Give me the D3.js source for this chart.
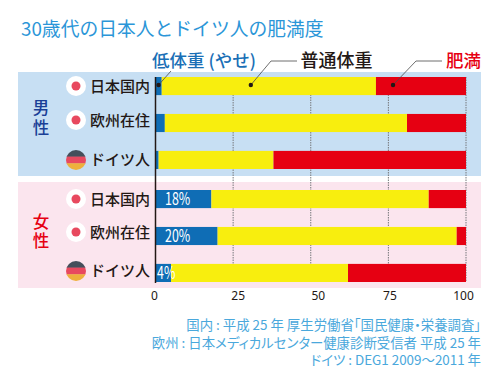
<!doctype html>
<html lang="ja">
<head>
<meta charset="UTF-8">
<title>30歳代の日本人とドイツ人の肥満度</title>
<script src="https://cdn.jsdelivr.net/npm/d3@7"></script>
<style>
  html, body { margin: 0; padding: 0; background: #fff; }
  svg { display: block; }
  text { font-family: "Noto Sans CJK JP", "Noto Sans", sans-serif; }
</style>
</head>
<body>
<div class="canvas"></div>
<script>
  const places = ['日本国内', '欧州在住', 'ドイツ人'];
  const seriesKeys = ['低体重 (やせ)', '普通体重', '肥満'];
  const seriesColors = ['#0f6db5', '#f8ee0e', '#e60012'];

  // 低体重, 普通体重, 肥満 (%)
  const maleLow = [2, 3, 1];
  const maleNormal = [69, 78, 37];
  const maleObese = [29, 19, 62];
  const femaleLow = [18, 20, 5];
  const femaleNormal = [70, 77, 57];
  const femaleObese = [12, 3, 38];
  const femaleLabels = ['18%', '20%', '4%'];
  const ticks = [0, 25, 50, 75, 100];
  const notes = [
    '国内 : 平成 25 年 厚生労働省「国民健康・栄養調査」',
    '欧州 : 日本メディカルセンター健康診断受信者 平成 25 年',
    'ドイツ : DEG1 2009〜2011 年'
  ];

  const svg = d3.select('.canvas').append('svg')
    .attr('width', 500)
    .attr('height', 390);

  const x = d3.scaleLinear().domain([0, 100]).range([155.5, 466]);

  const groups = [
    { name: '男', low: maleLow, normal: maleNormal, obese: maleObese, labels: [],
      bg: '#c7dff3', color: '#1a3f96', top: 72, bottom: 176, range: [77, 169], ty: [108, 128], rowShift: [0, -3, 0] },
    { name: '女', low: femaleLow, normal: femaleNormal, obese: femaleObese, labels: femaleLabels,
      bg: '#fbe5ee', color: '#e60012', top: 182, bottom: 288, range: [190, 282], ty: [222, 241], rowShift: [0, -4, -2] }
  ];

  svg.append('text')
    .attr('x', 21).attr('y', 36)
    .attr('fill', '#2b96d8')
    .style('font-size', '18.8px')
    .text('30歳代の日本人とドイツ人の肥満度');

  // 背景
  groups.forEach(g => {
    svg.append('rect')
      .attr('x', 18).attr('y', g.top)
      .attr('width', 463).attr('height', g.bottom - g.top)
      .attr('fill', g.bg);
  });

  // grid
  svg.append('g').selectAll('line')
    .data(ticks.slice(1))
    .enter().append('line')
    .attr('x1', d => x(d)).attr('x2', d => x(d))
    .attr('y1', 77).attr('y2', 282)
    .attr('stroke', '#77787c')
    .attr('stroke-width', 1)
    .attr('stroke-dasharray', '1.5 1');

  const stack = d3.stack().keys([0, 1, 2]);
  const defs = svg.append('defs');

  groups.forEach((g, gi) => {
    const y = d3.scaleBand().domain(places).range(g.range).paddingInner(0.51);
    const rows = places.map((p, i) => ({ place: p, 0: g.low[i], 1: g.normal[i], 2: g.obese[i] }));

    stack(rows).forEach((layer, li) => {
      svg.append('g').selectAll('rect')
        .data(layer)
        .enter().append('rect')
        .attr('x', d => x(d[0]))
        .attr('y', d => y(d.data.place))
        .attr('width', d => x(d[1]) - x(d[0]))
        .attr('height', y.bandwidth())
        .attr('fill', seriesColors[li]);
    });

    // 値ラベル (細い文字)
    svg.append('g').selectAll('text')
      .data(g.labels)
      .enter().append('text')
      .attr('transform', (d, i) => {
        const tx = i === 2 ? x(0) + 1.5 : x(0) + 9.5;
        const ty = y(places[i]) + y.bandwidth() / 2 + 6;
        return `translate(${tx}, ${ty}) scale(0.73, 1)`;
      })
      .attr('fill', '#fff')
      .style('font-size', '17px')
      .text(d => d);

    // 行ラベル
    svg.append('g').selectAll('text')
      .data(places)
      .enter().append('text')
      .attr('x', 150)
      .attr('y', (d, i) => y(d) + y.bandwidth() / 2 + 5.5 + g.rowShift[i])
      .attr('text-anchor', 'end')
      .attr('fill', '#231815')
      .style('font-size', '15px')
      .style('font-weight', 500)
      .text(d => d);

    // 国旗
    places.forEach((p, i) => {
      const cy = y(p) + y.bandwidth() / 2 + g.rowShift[i];
      if (i < 2) {
        svg.append('circle').attr('cx', 76).attr('cy', cy).attr('r', 10).attr('fill', '#fff');
        svg.append('circle').attr('cx', 76).attr('cy', cy).attr('r', 4.5).attr('fill', '#e8495f');
      } else {
        const id = 'flag' + gi;
        defs.append('clipPath').attr('id', id)
          .append('circle').attr('cx', 76).attr('cy', cy).attr('r', 10);
        ['#454f5b', '#e8495f', '#eeb03c'].forEach((c, k) => {
          svg.append('rect')
            .attr('x', 66).attr('y', cy - 10 + k * 20 / 3)
            .attr('width', 20).attr('height', 20 / 3 + 0.3)
            .attr('fill', c)
            .attr('clip-path', `url(#${id})`);
        });
      }
    });

    // 男性 / 女性
    [g.name, '性'].forEach((t, i) => {
      svg.append('text')
        .attr('x', 41).attr('y', g.ty[i] + 6)
        .attr('text-anchor', 'middle')
        .attr('fill', g.color)
        .style('font-size', '16.5px')
        .style('font-weight', 500)
        .text(t);
    });
  });

  // 0 の軸線
  svg.append('line')
    .attr('x1', x(0)).attr('x2', x(0))
    .attr('y1', 77).attr('y2', 283)
    .attr('stroke', '#231815')
    .attr('stroke-width', 1.5);

  // x axis
  const tickShift = [-1.5, 4.5, 7, 1, -3];
  const xAxisG = svg.append('g')
    .attr('transform', 'translate(0, 288)')
    .call(d3.axisBottom(x).tickValues(ticks).tickSize(0).tickPadding(3));
  xAxisG.select('.domain').remove();
  xAxisG.selectAll('text')
    .attr('dx', (d, i) => tickShift[i])
    .attr('fill', '#231815')
    .style('font-family', '"Noto Sans", sans-serif')
    .style('font-size', '12px');

  // 凡例
  const legendColors = ['#1a6fb6', '#231815', '#e60012'];
  const legendX = [152, 300.5, 446];
  const legendSize = [17.5, 18, 17.5];
  svg.selectAll('.legend')
    .data(seriesKeys)
    .enter().append('text')
    .attr('class', 'legend')
    .attr('x', (d, i) => legendX[i]).attr('y', 67)
    .attr('fill', (d, i) => legendColors[i])
    .style('font-size', (d, i) => legendSize[i] + 'px')
    .style('font-weight', 500)
    .text(d => d);

  // 引き出し線
  const leaders = [
    { dot: [x(1), 85], path: [[x(1), 85], [171, 71]] },
    { dot: [x(30.7), 85], path: [[x(30.7), 85], [271, 61], [297, 61]] },
    { dot: [x(76.5), 85], path: [[x(76.5), 85], [416, 61], [442, 61]] }
  ];
  const lineGen = d3.line();
  leaders.forEach(l => {
    svg.append('path')
      .attr('d', lineGen(l.path))
      .attr('fill', 'none')
      .attr('stroke', '#4a4a4a')
      .attr('stroke-width', 0.8);
    svg.append('circle')
      .attr('cx', l.dot[0]).attr('cy', l.dot[1]).attr('r', 2.2)
      .attr('fill', '#231815');
  });

  // 出典
  svg.selectAll('.note')
    .data(notes)
    .enter().append('text')
    .attr('class', 'note')
    .attr('x', 481)
    .attr('y', (d, i) => [330, 347.5, 365][i])
    .attr('text-anchor', 'end')
    .attr('fill', '#4aa8dc')
    .style('font-size', '13.4px')
    .style('font-feature-settings', '"palt"')
    .text(d => d);
</script>
</body>
</html>
